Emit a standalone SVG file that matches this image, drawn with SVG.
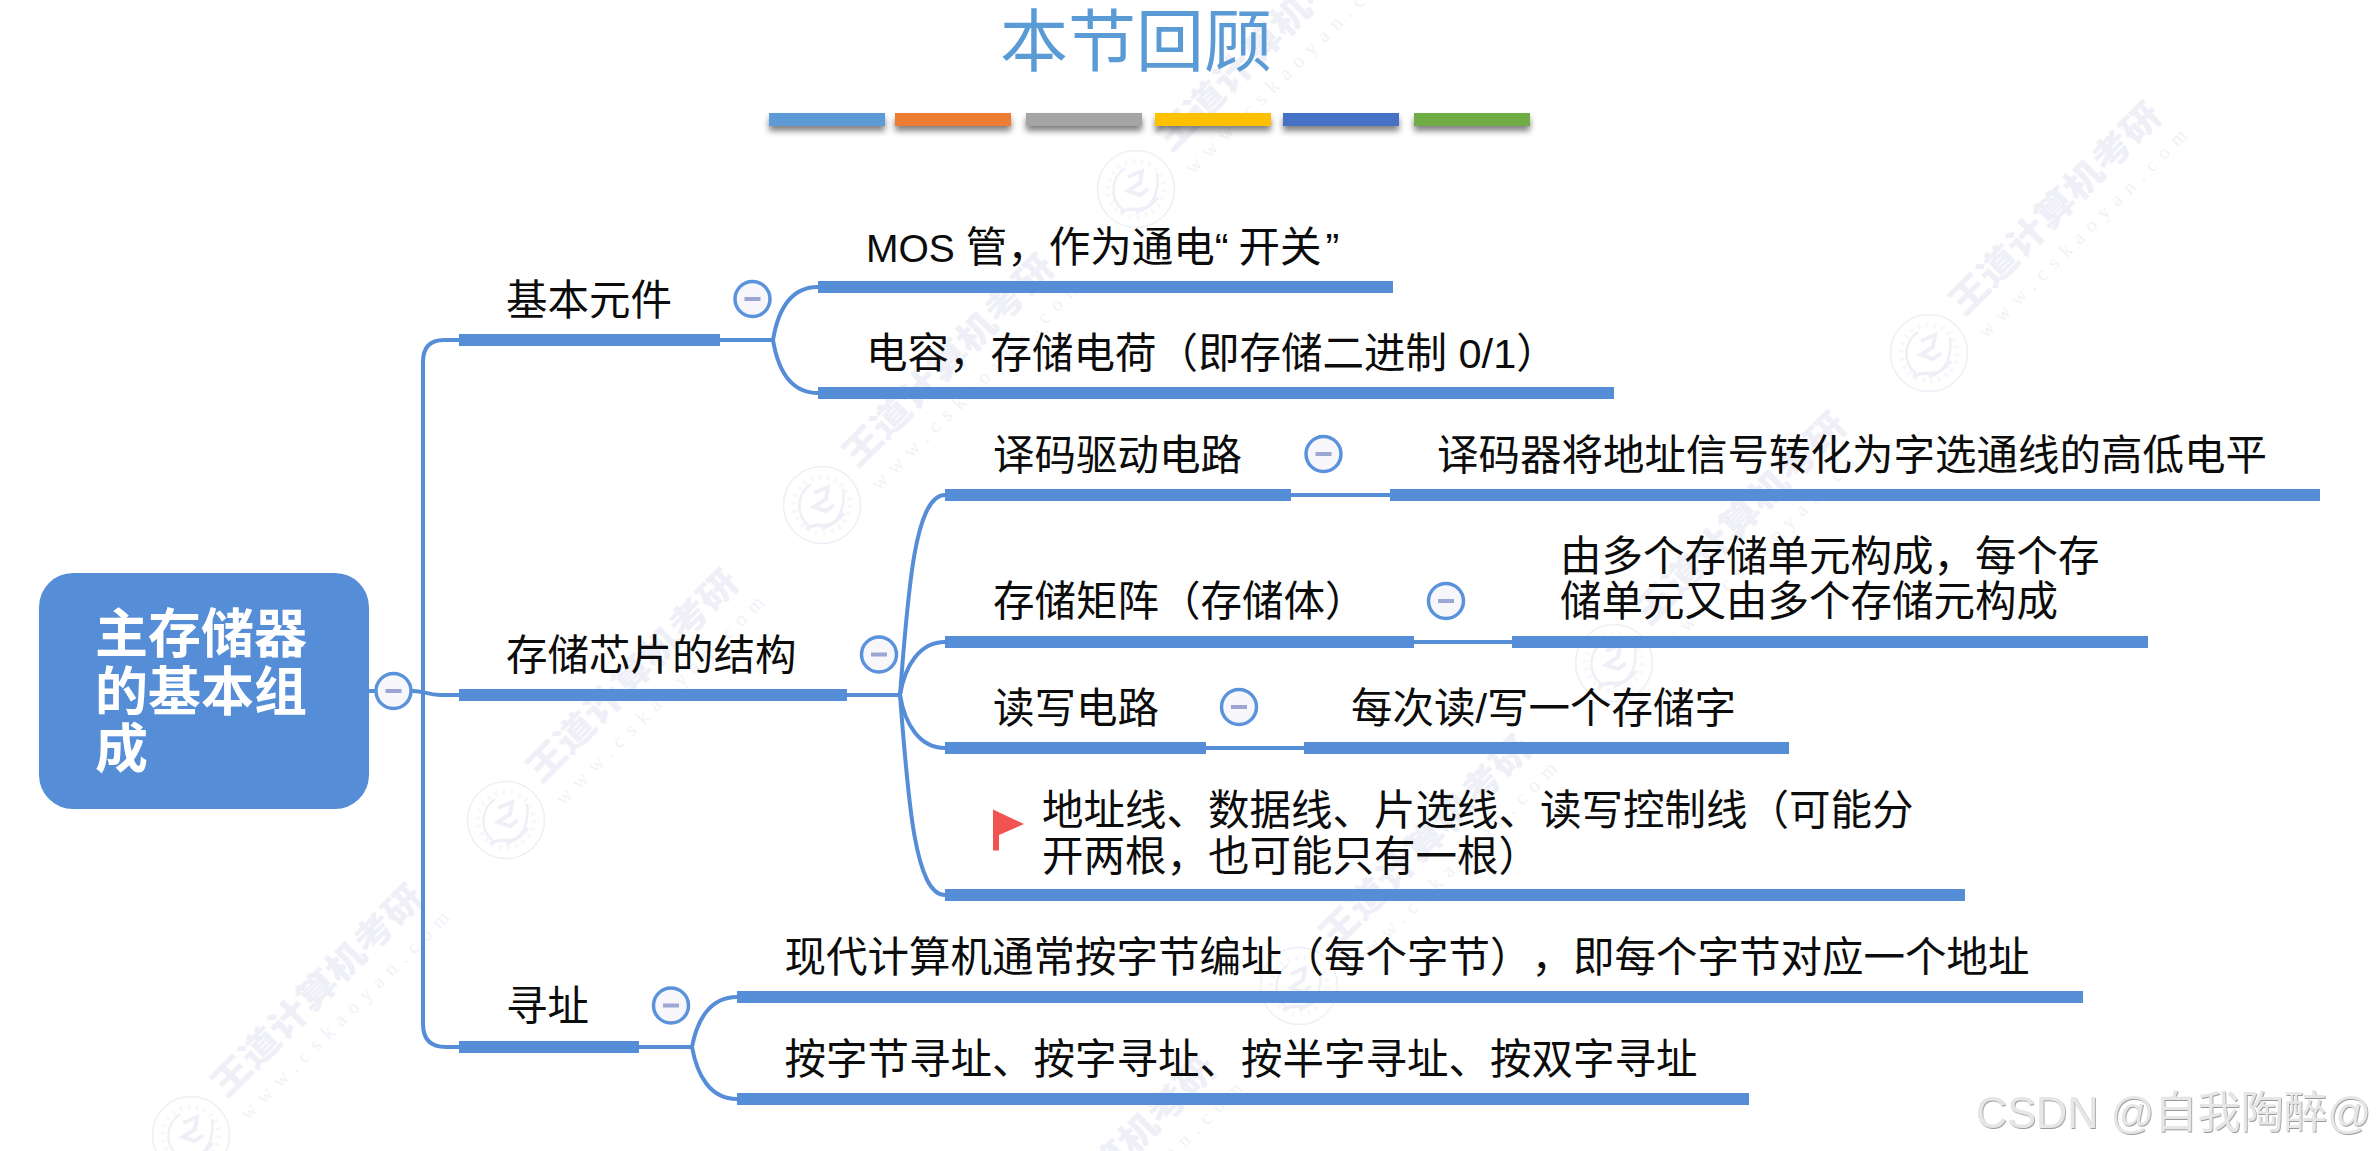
<svg xmlns="http://www.w3.org/2000/svg" xmlns:xlink="http://www.w3.org/1999/xlink" width="2376" height="1151" viewBox="0 0 2376 1151">
<style>
text{font-family:"Liberation Sans","Noto Sans CJK SC",sans-serif;text-spacing-trim:space-all}
.t{font-size:41.5px;fill:#0c0c0c}
.root{font-size:53px;font-weight:700;fill:#fff}
.title{font-size:68px;fill:#5b9bd5}
.bar{fill:#558dd6}
.link{fill:none;stroke:#558dd6;stroke-width:4}
.tog circle{fill:#f6f6fb;stroke:#5a92dc;stroke-width:3.5}
.tog rect{fill:#9ca6d2}
.wm1{font-size:35px;font-weight:900;fill:#eff0f7;font-family:"Noto Sans CJK SC",sans-serif}
.wm2{font-size:20px;font-family:"Liberation Serif",serif;fill:#f1f2f8}
.wmlogo{fill:none;stroke:#eff0f7}
.csdn{font-size:44px;fill:#e6e6e6;filter:url(#emboss)}
</style>
<defs>
<filter id="sh" x="-10%" y="-50%" width="120%" height="260%"><feGaussianBlur in="SourceAlpha" stdDeviation="3"/><feOffset dy="5"/><feComponentTransfer><feFuncA type="linear" slope="0.5"/></feComponentTransfer><feMerge><feMergeNode/><feMergeNode in="SourceGraphic"/></feMerge></filter>
<filter id="emboss" x="-5%" y="-20%" width="110%" height="140%"><feDropShadow dx="0.8" dy="1" stdDeviation="0.5" flood-color="#9a9a9a"/></filter>
<g id="logo" class="wmlogo">
<circle r="38.5" stroke-width="1.6"/>
<circle r="28" stroke-width="5" stroke-dasharray="3 5" opacity=".45"/>
<path d="M-11-21C-24-12-28 8-13 21" stroke-width="2.5"/>
<path d="M-16 24C0 14 4 30 22 8" stroke-width="3.5"/>
<path d="M0 24C14 20 24 6 21-16" stroke-width="2.5"/>
<path d="M-8-12L6-18 4-6-8 2 4 6 12 0" stroke-width="4"/>
</g>
</defs>

<g id="watermarks">
<g transform="translate(1136 189)"><use xlink:href="#logo"/><text class="wm1" transform="translate(35 -36) rotate(-45)" textLength="282" lengthAdjust="spacingAndGlyphs">王道计算机考研</text><text class="wm2" transform="translate(57 -14) rotate(-45)" textLength="286">www.cskaoyan.com</text></g>
<g transform="translate(822 505)"><use xlink:href="#logo"/><text class="wm1" transform="translate(35 -36) rotate(-45)" textLength="282" lengthAdjust="spacingAndGlyphs">王道计算机考研</text><text class="wm2" transform="translate(57 -14) rotate(-45)" textLength="286">www.cskaoyan.com</text></g>
<g transform="translate(506 820)"><use xlink:href="#logo"/><text class="wm1" transform="translate(35 -36) rotate(-45)" textLength="282" lengthAdjust="spacingAndGlyphs">王道计算机考研</text><text class="wm2" transform="translate(57 -14) rotate(-45)" textLength="286">www.cskaoyan.com</text></g>
<g transform="translate(191 1135)"><use xlink:href="#logo"/><text class="wm1" transform="translate(35 -36) rotate(-45)" textLength="282" lengthAdjust="spacingAndGlyphs">王道计算机考研</text><text class="wm2" transform="translate(57 -14) rotate(-45)" textLength="286">www.cskaoyan.com</text></g>
<g transform="translate(1929 353)"><use xlink:href="#logo"/><text class="wm1" transform="translate(35 -36) rotate(-45)" textLength="282" lengthAdjust="spacingAndGlyphs">王道计算机考研</text><text class="wm2" transform="translate(57 -14) rotate(-45)" textLength="286">www.cskaoyan.com</text></g>
<g transform="translate(1614 663)"><use xlink:href="#logo"/><text class="wm1" transform="translate(35 -36) rotate(-45)" textLength="282" lengthAdjust="spacingAndGlyphs">王道计算机考研</text><text class="wm2" transform="translate(57 -14) rotate(-45)" textLength="286">www.cskaoyan.com</text></g>
<g transform="translate(1299 986)"><use xlink:href="#logo"/><text class="wm1" transform="translate(35 -36) rotate(-45)" textLength="282" lengthAdjust="spacingAndGlyphs">王道计算机考研</text><text class="wm2" transform="translate(57 -14) rotate(-45)" textLength="286">www.cskaoyan.com</text></g>
<g transform="translate(984 1306)"><text class="wm1" transform="translate(35 -36) rotate(-45)" textLength="282" lengthAdjust="spacingAndGlyphs">王道计算机考研</text><text class="wm2" transform="translate(57 -14) rotate(-45)" textLength="286">www.cskaoyan.com</text></g>
</g>

<g id="header">
<text class="title" x="1000" y="66">本节回顾</text>
<g filter="url(#sh)">
<rect x="769" y="113" width="116" height="13" fill="#5b9bd5"/>
<rect x="895" y="113" width="116" height="13" fill="#ed7d31"/>
<rect x="1026" y="113" width="116" height="13" fill="#a5a5a5"/>
<rect x="1155" y="113" width="116" height="13" fill="#ffc000"/>
<rect x="1283" y="113" width="116" height="13" fill="#4472c4"/>
<rect x="1414" y="113" width="116" height="13" fill="#70ad47"/>
</g>
</g>

<g id="connectors">
<path class="link" d="M369 691H413C424 691 428 695 440 695H459"/>
<path class="link" d="M459 340H444Q423 340 423 362V1024Q423 1047 446 1047H459"/>
<path class="link" d="M720 340H773C778 310 790 287 818 287"/>
<path class="link" d="M773 340C778 370 790 393 818 393"/>
<path class="link" d="M847 695H900C905 665 920 642 945 642"/>
<path class="link" d="M900 695C905 725 920 748 945 748"/>
<path class="link" d="M900 695C908 590 915 495 945 495"/>
<path class="link" d="M900 695C908 800 915 895 945 895"/>
<path class="link" d="M639 1047H692C697 1020 710 997 737 997"/>
<path class="link" d="M692 1047C697 1075 710 1099 737 1099"/>
<path class="link" d="M1291 495H1390"/>
<path class="link" d="M1414 642H1512"/>
<path class="link" d="M1206 748H1304"/>
</g>

<g id="node-root">
<rect x="39" y="573" width="330" height="236" rx="34" fill="#558dd6"/>
<text class="root" x="95" y="653">主存储器</text>
<text class="root" x="95" y="711">的基本组</text>
<text class="root" x="95" y="768">成</text>
<g class="tog"><circle cx="393.5" cy="691" r="17.5"/><rect x="385.5" y="689" width="16" height="4"/></g>
</g>

<g id="node-basic">
<rect class="bar" x="459" y="334" width="261" height="12"/>
<text class="t" x="506" y="314.500">基本元件</text>
<g class="tog"><circle cx="752.500" cy="299" r="17.500"/><rect x="744.500" y="297" width="16" height="4"/></g>
</g>
<g id="node-mos">
<rect class="bar" x="818" y="281" width="575" height="12"/>
<text class="t" x="866" y="262" xml:space="preserve"><tspan font-size="39">MOS </tspan>管，作为通电“<tspan dx="10">开</tspan>关<tspan dx="4">”</tspan></text>
</g>
<g id="node-cap">
<rect class="bar" x="818" y="387" width="796" height="12"/>
<text class="t" x="866" y="367.500">电容，存储电荷（即存储二进制 0/1）</text>
</g>

<g id="node-chip">
<rect class="bar" x="459" y="689" width="388" height="12"/>
<text class="t" x="506" y="670">存储芯片的结构</text>
<g class="tog"><circle cx="879" cy="654.500" r="17.500"/><rect x="871" y="652.500" width="16" height="4"/></g>
</g>
<g id="node-decoder">
<rect class="bar" x="945" y="489" width="346" height="12"/>
<text class="t" x="993" y="469.500">译码驱动电路</text>
<g class="tog"><circle cx="1323.500" cy="454" r="17.500"/><rect x="1315.500" y="452" width="16" height="4"/></g>
</g>
<g id="node-decoder-note">
<rect class="bar" x="1390" y="489" width="930" height="12"/>
<text class="t" x="1437" y="469.500">译码器将地址信号转化为字选通线的高低电平</text>
</g>
<g id="node-matrix">
<rect class="bar" x="945" y="636" width="469" height="12"/>
<text class="t" x="993" y="616">存储矩阵（存储体）</text>
<g class="tog"><circle cx="1446" cy="601" r="17.500"/><rect x="1438" y="599" width="16" height="4"/></g>
</g>
<g id="node-matrix-note">
<rect class="bar" x="1512" y="636" width="636" height="12"/>
<text class="t" x="1560" y="570.500">由多个存储单元构成，每个存</text>
<text class="t" x="1560" y="616">储单元又由多个存储元构成</text>
</g>
<g id="node-rw">
<rect class="bar" x="945" y="742" width="261" height="12"/>
<text class="t" x="993" y="722.500">读写电路</text>
<g class="tog"><circle cx="1239" cy="707" r="17.500"/><rect x="1231" y="705" width="16" height="4"/></g>
</g>
<g id="node-rw-note">
<rect class="bar" x="1304" y="742" width="485" height="12"/>
<text class="t" x="1351" y="722.500">每次读/写一个存储字</text>
</g>
<g id="node-lines">
<rect class="bar" x="945" y="889" width="1020" height="12"/>
<path d="M993 809.500L1024 824 999 835V850.500H993Z" fill="#f05350"/>
<text class="t" x="1042" y="824.500">地址线、数据线、片选线、读写控制线（可能分</text>
<text class="t" x="1042" y="870.500">开两根，也可能只有一根）</text>
</g>

<g id="node-addr">
<rect class="bar" x="459" y="1041" width="180" height="12"/>
<text class="t" x="506" y="1021">寻址</text>
<g class="tog"><circle cx="671" cy="1005.500" r="17.500"/><rect x="663" y="1003.500" width="16" height="4"/></g>
</g>
<g id="node-addr-a">
<rect class="bar" x="737" y="991" width="1346" height="12"/>
<text class="t" x="784.500" y="971.500">现代计算机通常按字节编址（每个字节），即每个字节对应一个地址</text>
</g>
<g id="node-addr-b">
<rect class="bar" x="737" y="1093" width="1012" height="12"/>
<text class="t" x="784.500" y="1074">按字节寻址、按字寻址、按半字寻址、按双字寻址</text>
</g>

<text class="csdn" x="1976" y="1128" textLength="395" lengthAdjust="spacingAndGlyphs">CSDN @自我陶醉@</text>
</svg>
